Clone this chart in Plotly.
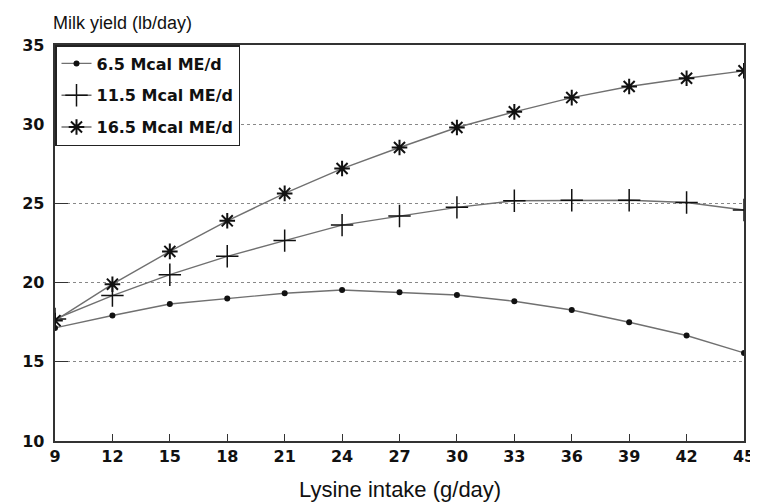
import plotly.graph_objects as go

lysine = [9, 12, 15, 18, 21, 24, 27, 30, 33, 36, 39, 42, 45]
me_6_5 = [17.14, 17.92, 18.65, 18.99, 19.33, 19.53, 19.39, 19.22, 18.82, 18.27, 17.5, 16.66, 15.56]
me_11_5 = [17.7, 19.18, 20.5, 21.66, 22.65, 23.63, 24.2, 24.75, 25.17, 25.2, 25.2, 25.06, 24.58]
me_16_5 = [17.6, 19.9, 21.97, 23.9, 25.63, 27.2, 28.53, 29.79, 30.78, 31.68, 32.38, 32.9, 33.37]
series_names = ["6.5 Mcal ME/d", "11.5 Mcal ME/d", "16.5 Mcal ME/d"]
x_ticks = [9, 12, 15, 18, 21, 24, 27, 30, 33, 36, 39, 42, 45]
y_ticks = [10, 15, 20, 25, 30, 35]

line_col = "#707070"
mk = "#111111"

fig = go.Figure()
fig.add_trace(go.Scatter(
    x=lysine, y=me_6_5, name=series_names[0], mode="lines+markers",
    line=dict(color=line_col, width=1.4),
    marker=dict(symbol="circle", size=6, color=mk),
    legendgroup="a"))
fig.add_trace(go.Scatter(
    x=lysine, y=me_11_5, name=series_names[1], mode="lines+markers",
    line=dict(color=line_col, width=1.4),
    marker=dict(symbol="cross-thin-open", size=16, color=mk, line=dict(color=mk, width=1.5)),
    legendgroup="b"))
fig.add_trace(go.Scatter(
    x=lysine, y=me_16_5, name=series_names[2], mode="lines+markers",
    line=dict(color=line_col, width=1.4),
    marker=dict(symbol="asterisk-open", size=13, color=mk, line=dict(color=mk, width=2)),
    legendgroup="c"))

tick_font = dict(family="DejaVu Sans", size=16, color="#111111", weight="bold")

fig.update_layout(
    width=758, height=503,
    margin=dict(l=47, r=11, t=37, b=70),
    paper_bgcolor="white", plot_bgcolor="white",
    showlegend=True,
    legend=dict(
        x=0, y=1, xanchor="left", yanchor="top",
        bgcolor="white", bordercolor="#222222", borderwidth=1.5,
        font=dict(family="DejaVu Sans", size=16, color="#111111", weight="bold"),
        tracegroupgap=8, itemwidth=30,
    ),
    xaxis=dict(
        range=[9, 45], tickvals=x_ticks, ticktext=[str(v) for v in x_ticks],
        showgrid=False, zeroline=False,
        showline=True, linecolor="#333333", linewidth=1.5, mirror=True,
        ticks="inside", ticklen=7, tickcolor="#333333", tickwidth=1,
        tickfont=tick_font,
    ),
    yaxis=dict(
        range=[10, 35], tickvals=y_ticks,
        ticktext=[str(v) + "\u00a0" for v in y_ticks],
        showgrid=True, gridcolor="#888888", griddash="dot", gridwidth=1,
        zeroline=False,
        showline=True, linecolor="#333333", linewidth=1.5, mirror=True,
        ticks="inside", ticklen=13, tickcolor="#333333", tickwidth=1,
        tickfont=tick_font,
    ),
    annotations=[
        dict(text="Milk yield (lb/day)", xref="paper", yref="paper",
             x=0, y=1, xanchor="left", yanchor="bottom", yshift=10, xshift=-4,
             showarrow=False,
             font=dict(family="Liberation Sans", size=18, color="#111111")),
        dict(text="Lysine intake (g/day)", xref="paper", yref="paper",
             x=0.5, y=0, xanchor="center", yanchor="top", yshift=-34,
             showarrow=False,
             font=dict(family="Liberation Sans", size=22, color="#111111")),
    ],
)

fig.write_html("out.html")
